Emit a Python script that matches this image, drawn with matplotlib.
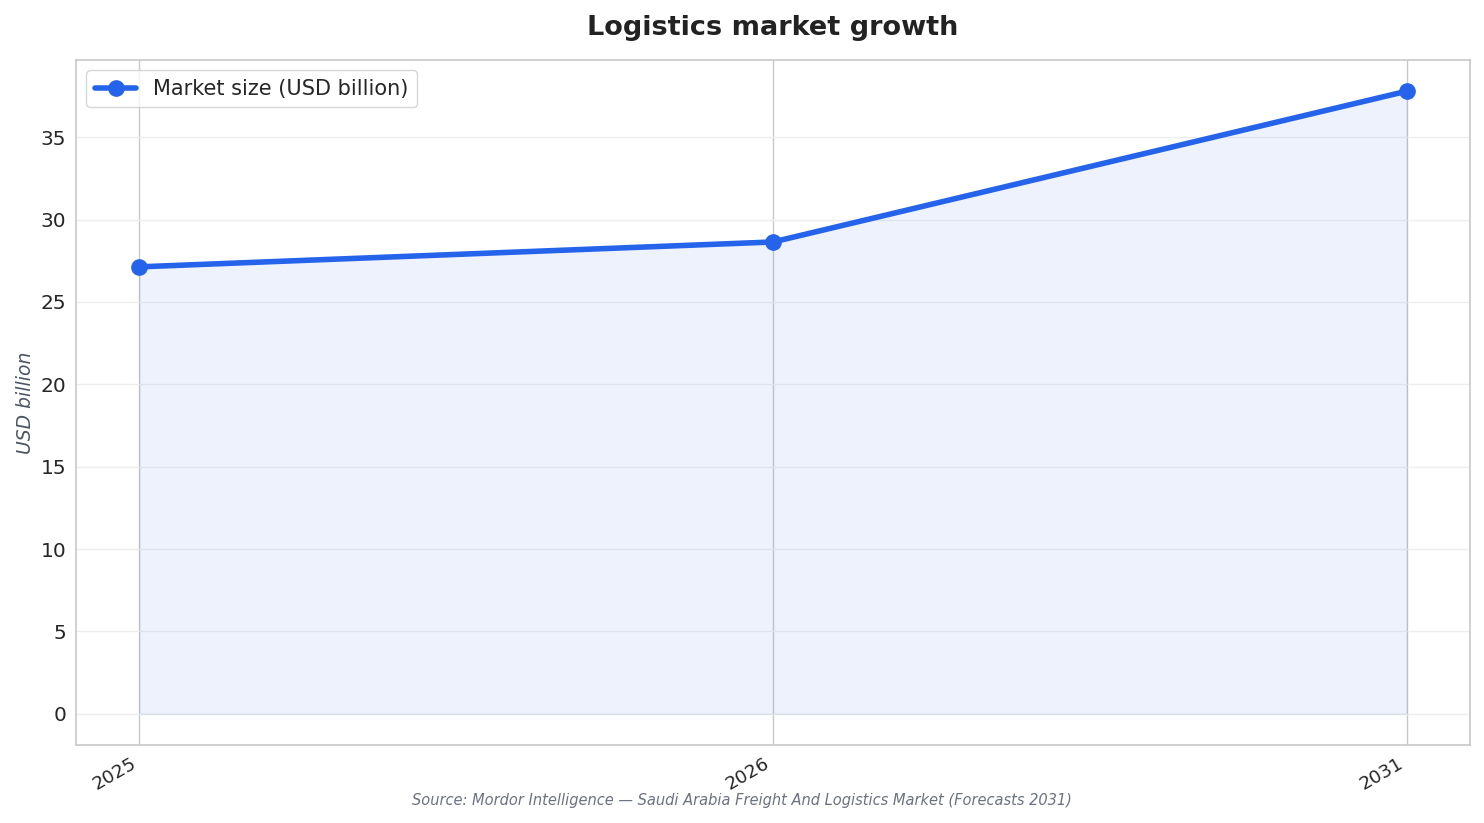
import matplotlib
matplotlib.use('Agg')
import matplotlib.pyplot as plt
import seaborn as sns

years = ['2025', '2026', '2031']
market_size = [27.13, 28.64, 37.79]
series_label = 'Market size (USD billion)'
title = 'Logistics market growth'
source = 'Source: Mordor Intelligence \u2014 Saudi Arabia Freight And Logistics Market (Forecasts 2031)'

sns.set_style('whitegrid')
plt.rcParams['font.family'] = ['DejaVu Sans']

fig, ax = plt.subplots(figsize=(14.84, 8.23), dpi=100)
x = range(len(years))
ax.plot(x, market_size, color='#2563eb', linewidth=4, marker='o', markersize=11,
        label=series_label, zorder=3)
ax.fill_between(x, market_size, 0, color='#2563eb', alpha=0.08, zorder=2)

ax.set_xticks(list(x))
ax.set_xticklabels(years, rotation=30, ha='right', fontsize=13.3)
ax.tick_params(axis='y', labelsize=14.5)
ax.grid(axis='y', color='#eeeeee', linewidth=1)
ax.grid(axis='x', color='#c8c8c8', linewidth=1)
for s in ax.spines.values():
    s.set_color('#c8c8c8')
    s.set_linewidth(1.2)

ax.set_ylabel('USD billion', fontsize=13.5, style='italic', color='#4b5563', labelpad=4)
ax.set_title(title, fontsize=19.5, fontweight='bold', color='#222222', pad=18)
ax.legend(loc='upper left', fontsize=15, frameon=True)

fig.text(0.5, 0.022, source, ha='center', fontsize=10.5, style='italic', color='#6b7280')
fig.subplots_adjust(left=0.0512, right=0.9906, top=0.927, bottom=0.0948)
fig.savefig('out.png', dpi=100)
